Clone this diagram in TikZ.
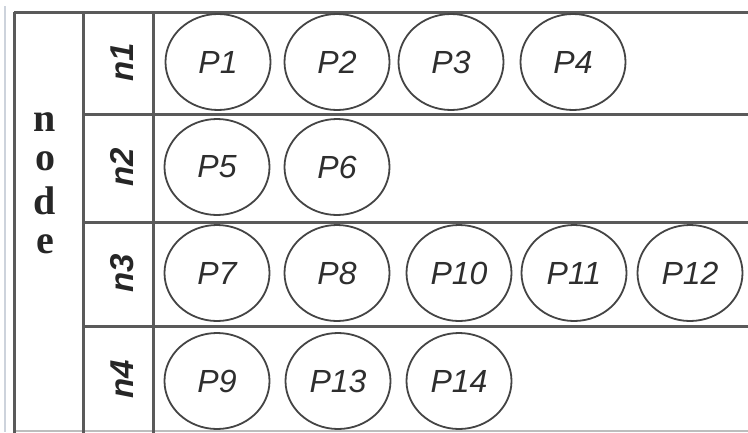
\documentclass[tikz,border=0pt]{standalone}
\usepackage{fontspec}
\setmainfont{Liberation Serif}
\setsansfont{Liberation Sans}
\usetikzlibrary{shapes.geometric}
\definecolor{gridgray}{HTML}{5A5A5A}
\definecolor{ringgray}{HTML}{444444}
\definecolor{txtgray}{HTML}{2E2E2E}
\definecolor{faint}{HTML}{CDD3DC}
\tikzset{
  gridline/.style={draw=gridgray, line width=3pt},
  pnode/.style={ellipse, draw=ringgray, line width=1.8pt, minimum width=105pt, minimum height=96pt, inner sep=0pt,
    font=\sffamily\itshape\fontsize{32}{32}\selectfont, text=txtgray},
  nlabel/.style={rotate=90, font=\sffamily\bfseries\itshape\fontsize{33}{33}\selectfont, text=black!85, inner sep=0pt},
  letter/.style={font=\bfseries\fontsize{40}{40}\selectfont, text=black!85, inner sep=0pt}
}
\begin{document}
\begin{tikzpicture}[x=1pt, y=-1pt]
\useasboundingbox (0,0) rectangle (748,432);
\fill[white] (0,0) rectangle (748,432);
% faint scan edge
\draw[faint, line width=1.5pt] (5,6) -- (5,432);
% grid
\draw[gridline] (14,12) -- (760,12);
\draw[gridline] (83,114) -- (760,114);
\draw[gridline] (83,222) -- (760,222);
\draw[gridline] (83,326) -- (760,326);
\draw[draw=gridgray!40, line width=2pt] (14,431) -- (760,431);
\draw[gridline] (14,12) -- (14,440);
\draw[gridline] (83,12) -- (83,440);
\draw[gridline] (153,12) -- (153,440);
% stacked letters
\node[letter] (ln) at (45,122) {n};
\node[letter] (lo) at (45,161) {o};
\node[letter] (ld) at (45,201) {d};
\node[letter] (le) at (45,244) {e};
% row labels
\node[nlabel] (n1) at (122,62) {n1};
\node[nlabel] (n2) at (122,167) {n2};
\node[nlabel] (n3) at (122,273) {n3};
\node[nlabel] (n4) at (122,379) {n4};
% processes
\node[pnode] (p1) at (218,62) {P1};
\node[pnode] (p2) at (337,62) {P2};
\node[pnode] (p3) at (451,62) {P3};
\node[pnode] (p4) at (573,62) {P4};
\node[pnode] (p5) at (217,167) {P5};
\node[pnode] (p6) at (337,167) {P6};
\node[pnode] (p7) at (217,273) {P7};
\node[pnode] (p8) at (337,273) {P8};
\node[pnode] (p10) at (459,273) {P10};
\node[pnode] (p11) at (574,273) {P11};
\node[pnode] (p12) at (690,273) {P12};
\node[pnode] (p9) at (217,381) {P9};
\node[pnode] (p13) at (338,381) {P13};
\node[pnode] (p14) at (459,381) {P14};
\end{tikzpicture}
\end{document}
